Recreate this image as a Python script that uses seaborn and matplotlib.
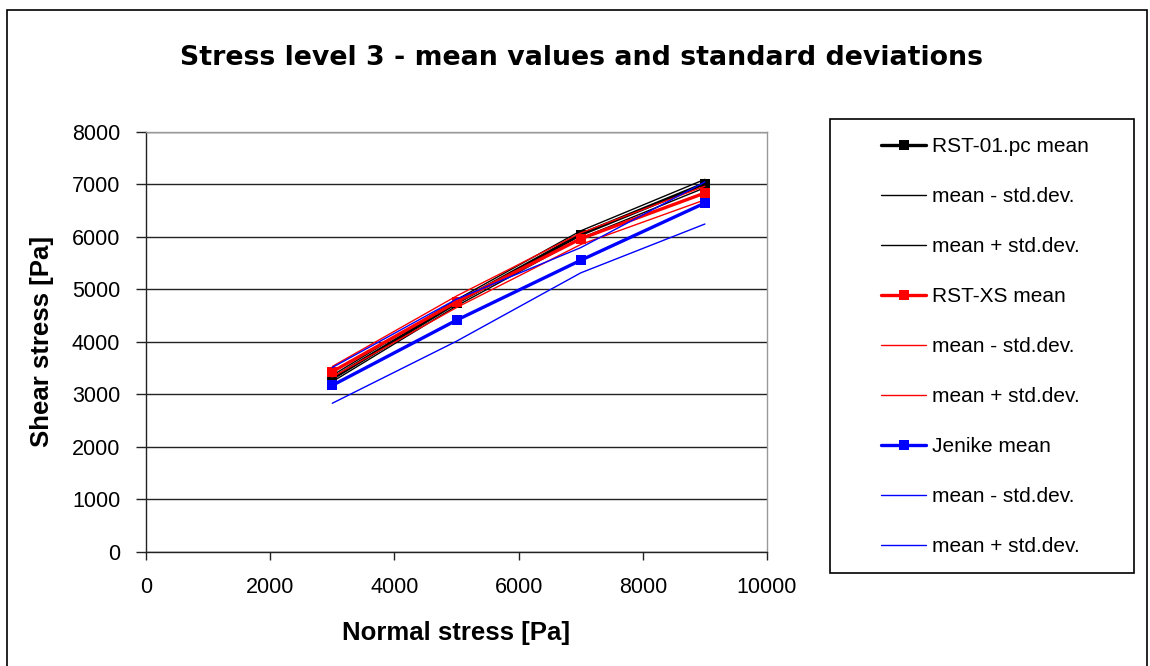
import numpy as np
import pandas as pd
import matplotlib
matplotlib.use("Agg")
import matplotlib.pyplot as plt
from matplotlib.patches import Rectangle
from matplotlib.lines import Line2D
import seaborn as sns

# -----------------------------
# data
# -----------------------------
normal_stress = [3000, 5000, 7000, 9000]

rst01_mean = [3300, 4740, 6040, 7010]
rst01_minus = [3240, 4680, 5970, 6930]
rst01_plus = [3360, 4800, 6110, 7090]

rstxs_mean = [3430, 4760, 5960, 6830]
rstxs_minus = [3330, 4650, 5850, 6700]
rstxs_plus = [3530, 4870, 6070, 6960]

jenike_mean = [3170, 4410, 5550, 6640]
jenike_minus = [2830, 4010, 5310, 6240]
jenike_plus = [3510, 4810, 5790, 7040]

series = [
    ("RST-01.pc mean", rst01_mean, "black", True),
    ("mean - std.dev.", rst01_minus, "black", False),
    ("mean + std.dev.", rst01_plus, "black", False),
    ("RST-XS mean", rstxs_mean, "red", True),
    ("mean - std.dev.", rstxs_minus, "red", False),
    ("mean + std.dev.", rstxs_plus, "red", False),
    ("Jenike mean", jenike_mean, "blue", True),
    ("mean - std.dev.", jenike_minus, "blue", False),
    ("mean + std.dev.", jenike_plus, "blue", False),
]

sns.set_style("white")
plt.rcParams["font.family"] = ["Liberation Sans", "DejaVu Sans"]
plt.rcParams["text.color"] = "black"
plt.rcParams["axes.labelcolor"] = "black"
plt.rcParams["xtick.color"] = "black"
plt.rcParams["ytick.color"] = "black"

W, H = 1150, 666
fig = plt.figure(figsize=(W / 100, H / 100), dpi=100)
ax = fig.add_axes([146 / W, 1 - 552 / H, (767 - 146) / W, (552 - 131.5) / H])

handles = []
for label, vals, color, is_mean in series:
    df = pd.DataFrame({"x": normal_stress, "y": vals})
    if is_mean:
        sns.lineplot(data=df, x="x", y="y", ax=ax, color=color, linewidth=2.4,
                     marker="s", markersize=7, markeredgewidth=0)
        handles.append(Line2D([], [], color=color, linewidth=2.4, marker="s",
                              markersize=7, markeredgewidth=0, label=label))
    else:
        sns.lineplot(data=df, x="x", y="y", ax=ax, color=color, linewidth=1.0)
        handles.append(Line2D([], [], color=color, linewidth=1.0, label=label))

ax.set_xlim(0, 10000)
ax.set_ylim(0, 8000)
ax.set_xticks(range(0, 10001, 2000))
ax.set_yticks(range(0, 8001, 1000))
ax.yaxis.grid(True, color="#222222", linewidth=1.0)
ax.xaxis.grid(False)
ax.set_axisbelow(True)
for s in ["left", "bottom"]:
    ax.spines[s].set_color("#222222")
    ax.spines[s].set_linewidth(1.0)
for s in ["right", "top"]:
    ax.spines[s].set_color("#999999")
    ax.spines[s].set_linewidth(1.0)
ax.tick_params(axis="x", direction="out", length=6, width=1, color="#222222",
               labelsize=15.5, pad=12, bottom=True)
ax.tick_params(axis="y", direction="out", length=7.5, width=1, color="#222222",
               labelsize=15.5, pad=11, left=True)

ax.set_xlabel("Normal stress [Pa]", fontsize=18.5, fontweight="bold")
ax.set_ylabel("Shear stress [Pa]", fontsize=18.5, fontweight="bold")
ax.xaxis.label.set_va("center")
ax.yaxis.label.set_va("center")
ax.xaxis.set_label_coords(0.5, (552 - 633) / (552 - 131.5))
ax.yaxis.set_label_coords((42 - 146) / (767 - 146), 0.5)

fig.text(581 / W, 1 - 58 / H, "Stress level 3 - mean values and standard deviations",
         ha="center", va="center", fontsize=19.3, fontweight="bold",
         family=["DejaVu Sans"])

# legend box drawn separately so its size matches
fig.patches.append(Rectangle((830 / W, 1 - 573 / H), (1134 - 830) / W, (573 - 119) / H,
                             transform=fig.transFigure, fill=False,
                             edgecolor="black", linewidth=1.2))
leg = fig.legend(handles=handles, loc="upper left",
                 bbox_to_anchor=(881 / W, 1 - 137 / H), frameon=False,
                 fontsize=15, handlelength=2.16, handletextpad=0.3,
                 labelspacing=1.49, borderpad=0, borderaxespad=0)

# outer chart border
fig.patches.append(Rectangle((7 / W, -0.05), (1147 - 7) / W, 1.05 - 10 / H,
                             transform=fig.transFigure, fill=False,
                             edgecolor="black", linewidth=1.2))

fig.savefig("out.png", dpi=100)
